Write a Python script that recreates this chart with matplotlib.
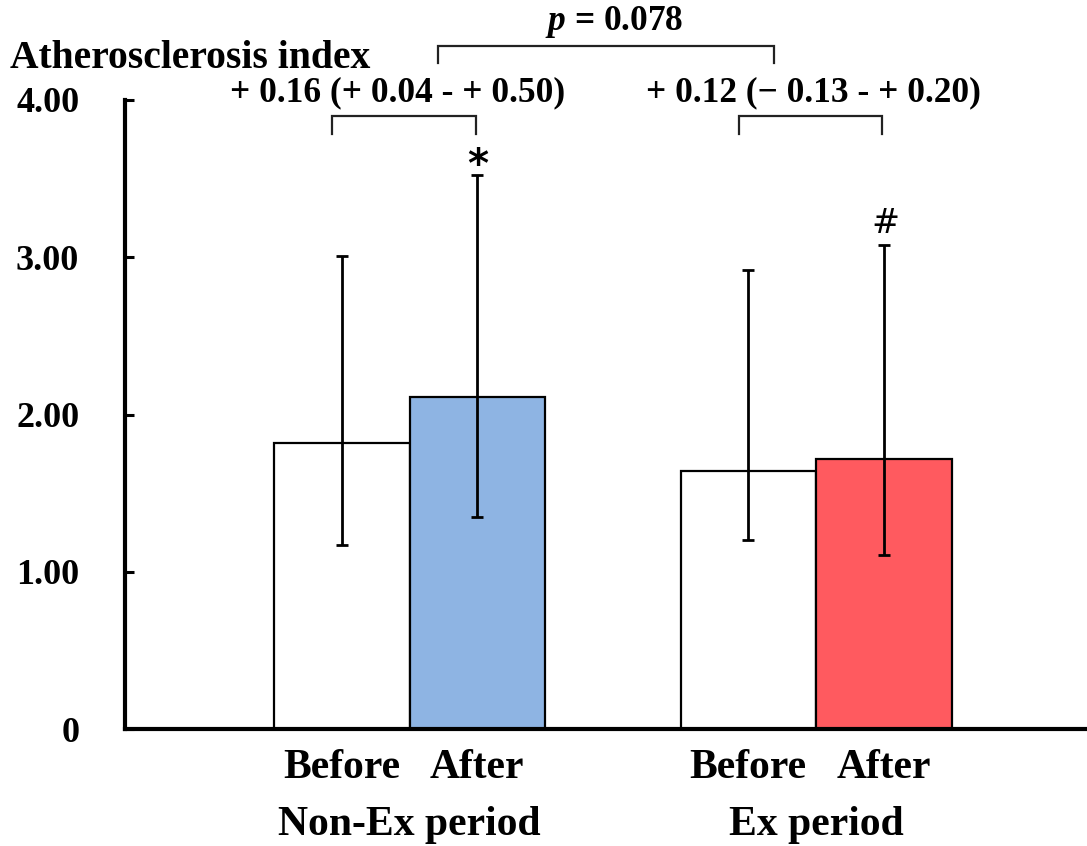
import matplotlib
matplotlib.use('Agg')
import matplotlib.pyplot as plt
from matplotlib.transforms import blended_transform_factory

plt.rcParams['font.family'] = ['Liberation Serif', 'DejaVu Serif']
plt.rcParams['font.weight'] = 'bold'
plt.rcParams['mathtext.fontset'] = 'custom'
plt.rcParams['mathtext.it'] = 'Liberation Serif:italic:bold'
plt.rcParams['mathtext.rm'] = 'Liberation Serif:bold'
plt.rcParams['mathtext.bf'] = 'Liberation Serif:bold'

# ---- data ----
groups = ['Non-Ex period', 'Ex period']
conditions = ['Before', 'After', 'Before', 'After']
means = [1.82, 2.11, 1.64, 1.72]
upper = [3.01, 3.52, 2.92, 3.08]
lower = [1.17, 1.35, 1.20, 1.11]
fills = ['white', '#8EB4E3', 'white', '#FF5A5F']
change_labels = ['+ 0.16 (+ 0.04 - + 0.50)', '+ 0.12 (\u2212 0.13 - + 0.20)']
p_label = r'$p$ = 0.078'
sig_marks = ['', '*', '', '#']
yticks = [0, 1, 2, 3, 4]
ytick_labels = ['0', '1.00', '2.00', '3.00', '4.00']
ylabel = 'Atherosclerosis index'

positions = [0, 1, 3, 4]

fig = plt.figure(figsize=(10.87, 8.46), dpi=100)
ax = fig.add_axes([0.115, 0.138, 0.885, 0.744])

ax.bar(positions, means, width=1.0, color=fills, edgecolor='black', linewidth=1.6, zorder=2)
yerr = [[m - l for m, l in zip(means, lower)], [u - m for m, u in zip(means, upper)]]
ax.errorbar(positions, means, yerr=yerr, fmt='none', ecolor='black', elinewidth=2.0,
            capsize=4.5, capthick=2.0, zorder=3)

ax.set_xlim(-1.6, 5.5)
ax.set_ylim(0, 4)
ax.set_yticks(yticks, ytick_labels)
ax.set_xticks(positions, conditions)
ax.tick_params(axis='y', direction='in', length=6.5, width=2.2, pad=33, labelsize=26)
ax.tick_params(axis='x', length=0, pad=14, labelsize=30)
for lbl, dx in zip(ax.get_xticklabels(), [0, 0, 0, 5]):
    pass
for s in ['top', 'right']:
    ax.spines[s].set_visible(False)
for s in ['left', 'bottom']:
    ax.spines[s].set_linewidth(3)

trans = blended_transform_factory(ax.transData, ax.transAxes)
for i, g in enumerate(groups):
    xm = (positions[2 * i] + positions[2 * i + 1]) / 2
    ax.text(xm, -0.152, g, transform=trans, ha='center', va='center', fontsize=30)

# significance marks
for x, u, s in zip(positions, upper, sig_marks):
    if s == '*':
        ax.text(x, u - 0.01, s, ha='center', va='baseline', fontsize=29,
                family='DejaVu Sans', fontweight='bold')
    elif s == '#':
        ax.text(x + 0.01, u + 0.075, s, ha='center', va='baseline', fontsize=24,
                family='DejaVu Sans', fontweight='normal')

# within-group brackets
bc = '#222222'
text_dx = [-0.05, 0.02]
for i, lab in enumerate(change_labels):
    x0 = positions[2 * i] - 0.07
    x1 = positions[2 * i + 1] - 0.01
    ax.plot([x0, x0, x1, x1], [3.78, 3.895, 3.895, 3.78], color=bc, lw=1.6,
            clip_on=False, solid_joinstyle='miter')
    ax.text((x0 + x1) / 2 + text_dx[i], 4.045, lab, ha='center', va='center', fontsize=25.5)

# between-group bracket
gx0 = (positions[0] + positions[1]) / 2 + 0.21
gx1 = (positions[2] + positions[3]) / 2 - 0.31
ax.plot([gx0, gx0, gx1, gx1], [4.235, 4.34, 4.34, 4.235], color=bc, lw=1.6,
        clip_on=False, solid_joinstyle='miter')
ax.text((gx0 + gx1) / 2 + 0.06, 4.497, p_label, ha='center', va='center', fontsize=25.5)

fig.text(10 / 1087, 1 - 58 / 846, ylabel, ha='left', va='center', fontsize=28.5)

fig.savefig('out.png', dpi=100)
